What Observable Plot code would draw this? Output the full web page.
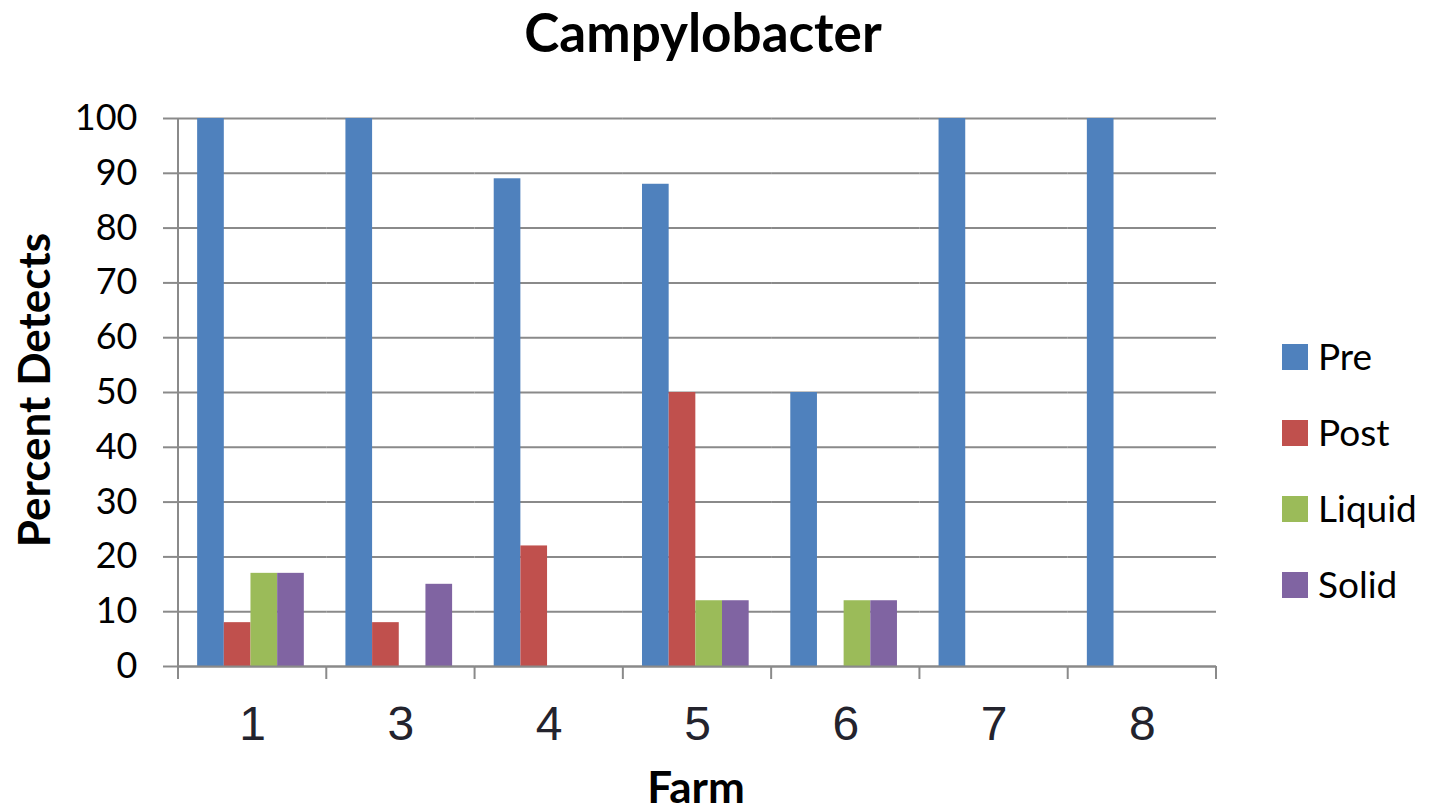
<!DOCTYPE html>
<html><head><meta charset="utf-8">
<script src="https://cdn.jsdelivr.net/npm/d3@7"></script>
<script src="https://cdn.jsdelivr.net/npm/@observablehq/plot@0.6"></script>
<style>body{margin:0;background:#fff} #chart svg{display:block}</style>
</head><body><div id="chart"></div>
<script>
const farms = ["1","3","4","5","6","7","8"];
const series = ["Pre","Post","Liquid","Solid"];
const colors = ["#4f81bd","#c0504d","#9bbb59","#8064a2"];
const pre    = [100,100,89,88,50,100,100];
const post   = [8,8,22,50,0,0,0];
const liquid = [17,0,0,12,12,0,0];
const solid  = [17,15,0,12,12,0,0];
const yTicks = [0,10,20,30,40,50,60,70,80,90,100];
const titleText = "Campylobacter";
const yLabel = "Percent Detects";
const xLabel = "Farm";

const values = [pre, post, liquid, solid];
const data = farms.flatMap((f, i) => series.map((s, j) => ({farm: f, series: s, value: values[j][i]})));
const gridColor = "#8a8a8a";

const chart = Plot.plot({
  width: 1433, height: 810,
  marginLeft: 178, marginRight: 217, marginTop: 118, marginBottom: 144,
  style: {background: "white", overflow: "visible"},
  fx: {domain: farms, padding: 0, label: null, round: false},
  x: {domain: series, paddingInner: 0, paddingOuter: 0.78, align: 0.46, round: false, axis: null},
  y: {domain: [0, 100], label: null},
  color: {domain: series, range: colors},
  marks: [
    Plot.gridY(yTicks, {stroke: gridColor, strokeOpacity: 1, strokeWidth: 2}),
    Plot.barY(data.filter(d => d.value > 0), {fx: "farm", x: "series", y: "value", fill: "series"}),
    Plot.ruleY([0], {stroke: gridColor, strokeWidth: 2}),
    Plot.axisY(yTicks, {tickSize: 15, tickPadding: 26, fontSize: 36, fontFamily: "Lato", fill: "#000", stroke: gridColor, strokeWidth: 2, label: null}),
    Plot.axisFx({anchor: "bottom", tickSize: 0, tickPadding: 39, fontSize: 48, fontFamily: "Liberation Sans", fill: "#23232d", label: null})
  ]
});

const svg = d3.select(chart);
const fx = chart.scale("fx"), y = chart.scale("y");
const y0 = y.apply(0), y100 = y.apply(100);
const left = fx.apply(farms[0]);
// y axis line
svg.append("line").attr("x1", left).attr("x2", left).attr("y1", y100).attr("y2", y0 + 13)
  .attr("stroke", gridColor).attr("stroke-width", 2);
// x category boundary ticks
const bounds = farms.map(f => fx.apply(f)).concat([fx.apply(farms[farms.length - 1]) + fx.bandwidth]);
svg.append("g").selectAll("line").data(bounds).join("line")
  .attr("x1", d => d).attr("x2", d => d).attr("y1", y0).attr("y2", y0 + 13)
  .attr("stroke", gridColor).attr("stroke-width", 2);
// title & labels
svg.append("text").attr("x", 703).attr("y", 52).attr("text-anchor", "middle")
  .attr("font-family", "Lato").attr("font-weight", "bold").attr("font-size", 53).attr("fill", "#000").text(titleText);
svg.append("text").attr("transform", "translate(50,390) rotate(-90)").attr("text-anchor", "middle")
  .attr("font-family", "Lato").attr("font-weight", "bold").attr("font-size", 44).attr("fill", "#000").text(yLabel);
svg.append("text").attr("x", 696).attr("y", 803).attr("text-anchor", "middle")
  .attr("font-family", "Lato").attr("font-weight", "bold").attr("font-size", 44).attr("fill", "#000").text(xLabel);
// legend
const lg = svg.append("g").attr("text-anchor", "start");
series.forEach((s, i) => {
  const cy = 357 + i * 76;
  lg.append("rect").attr("x", 1282).attr("y", cy - 13).attr("width", 26).attr("height", 26).attr("fill", colors[i]);
  lg.append("text").attr("x", 1318).attr("y", cy).attr("dy", "0.36em").attr("text-anchor", "start")
    .attr("font-family", "Lato").attr("font-size", 37).attr("fill", "#000").text(s);
});
document.getElementById("chart").appendChild(chart);
</script></body></html>
